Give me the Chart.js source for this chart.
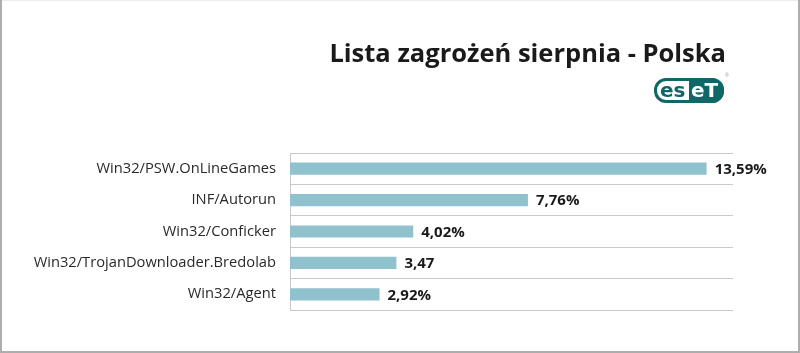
<!DOCTYPE html>
<html>
<head>
<meta charset="utf-8">
<script src="https://cdn.jsdelivr.net/npm/chart.js@4/dist/chart.umd.min.js"></script>
<style>
  html, body { margin: 0; padding: 0; background: #fff; }
  #wrap { width: 800px; height: 353px; position: relative; }
</style>
</head>
<body>
<div id="wrap"><canvas id="myChart" width="800" height="353"></canvas></div>
<script>
const titleText = "Lista zagrożeń sierpnia - Polska";
const categories = [
  "Win32/PSW.OnLineGames",
  "INF/Autorun",
  "Win32/Conficker",
  "Win32/TrojanDownloader.Bredolab",
  "Win32/Agent"
];
const shares = [13.59, 7.76, 4.02, 3.47, 2.92];
const valueLabels = ["13,59%", "7,76%", "4,02%", "3,47", "2,92%"];

const barColor = "#8fc2cd";
const gridColor = "#c9c9c9";
const eset = "#0f6767";

const textFont = "'Open Sans', 'Noto Sans', sans-serif";

// title, logo and frame round the picture
const decorations = {
  id: "decorations",
  beforeDraw(chart) {
    const ctx = chart.ctx;
    ctx.save();
    ctx.fillStyle = "#fff";
    ctx.fillRect(0, 0, chart.width, chart.height);
    ctx.restore();
  },
  afterDraw(chart) {
    const ctx = chart.ctx;
    ctx.save();

    // frame
    ctx.strokeStyle = "#ececec";
    ctx.lineWidth = 1;
    ctx.beginPath();
    ctx.moveTo(0, 0.5);
    ctx.lineTo(chart.width, 0.5);
    ctx.stroke();
    ctx.strokeStyle = "#adadad";
    ctx.lineWidth = 2;
    ctx.beginPath();
    ctx.moveTo(1, 0);
    ctx.lineTo(1, chart.height - 1);
    ctx.lineTo(chart.width - 1, chart.height - 1);
    ctx.lineTo(chart.width - 1, 0);
    ctx.stroke();

    // title
    ctx.fillStyle = "#1a1a1a";
    ctx.font = "bold 25.5px " + textFont;
    ctx.textAlign = "right";
    ctx.textBaseline = "alphabetic";
    ctx.fillText(titleText, 726, 62);

    // ESET logo
    const lx = 654, ly = 78, lw = 70, lh = 25, r = 12;
    ctx.beginPath();
    ctx.roundRect(lx, ly, lw, lh, r);
    ctx.fillStyle = "#fff";
    ctx.fill();
    ctx.save();
    ctx.clip();
    ctx.fillStyle = eset;
    ctx.fillRect(lx + 35, ly, lw - 35, lh);
    ctx.restore();
    ctx.lineWidth = 3;
    ctx.strokeStyle = eset;
    ctx.beginPath();
    ctx.roundRect(lx + 1.5, ly + 1.5, lw - 3, lh - 3, r - 1.5);
    ctx.stroke();
    ctx.font = "bold 20px 'DejaVu Sans', sans-serif";
    ctx.textAlign = "left";
    ctx.fillStyle = eset;
    ctx.fillText("es", lx + 6, ly + 19);
    ctx.fillStyle = "#fff";
    ctx.fillText("eT", lx + 37, ly + 19);
    ctx.font = "5px sans-serif";
    ctx.fillStyle = "#999";
    ctx.fillText("®", lx + lw + 1, ly - 1);

    ctx.restore();
  },
  afterDatasetsDraw(chart) {
    const ctx = chart.ctx;
    const meta = chart.getDatasetMeta(0);
    ctx.save();
    ctx.fillStyle = "#1a1a1a";
    ctx.font = "bold 15px " + textFont;
    ctx.textAlign = "left";
    ctx.textBaseline = "middle";
    meta.data.forEach((bar, i) => {
      ctx.fillText(valueLabels[i], bar.x + 8, bar.y + 1);
    });
    ctx.restore();
  }
};

new Chart(document.getElementById("myChart"), {
  type: "bar",
  data: {
    labels: categories,
    datasets: [{
      data: shares,
      backgroundColor: barColor,
      borderWidth: 0,
      barPercentage: 0.39,
      categoryPercentage: 1
    }]
  },
  options: {
    indexAxis: "y",
    responsive: false,
    animation: false,
    layout: {
      padding: {top: 153, bottom: 43, right: 67, left: 0}
    },
    plugins: {
      legend: {display: false},
      title: {display: false},
      tooltip: {enabled: false}
    },
    scales: {
      x: {
        display: false,
        min: 0,
        max: 14.45
      },
      y: {
        afterFit(scale) {
          scale.width = 290;
        },
        grid: {
          color: gridColor,
          offset: true,
          drawTicks: false
        },
        border: {color: gridColor},
        ticks: {
          color: "#2a2a2a",
          padding: 14,
          font: {family: textFont, size: 14.7}
        }
      }
    }
  },
  plugins: [decorations]
});
</script>
</body>
</html>
